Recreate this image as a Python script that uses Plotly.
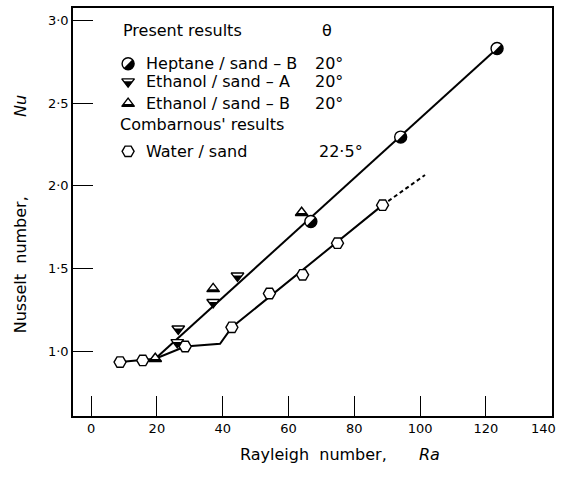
import math
import plotly.graph_objects as go

# ---------------- data ----------------
heptane_ra = [66.8, 94.1, 123.4]
heptane_nu = [1.785, 2.295, 2.83]

ethanolA_ra = [26.2, 26.5, 37.1, 44.5]
ethanolA_nu = [1.055, 1.137, 1.297, 1.457]

ethanolB_ra = [19.5, 37.1, 64.0]
ethanolB_nu = [0.956, 1.378, 1.838]

water_ra = [8.8, 15.7, 28.6, 42.8, 54.2, 64.3, 74.9, 88.6]
water_nu = [0.936, 0.946, 1.03, 1.146, 1.35, 1.463, 1.654, 1.884]

upper_fit_ra = [19.5, 123.4]
upper_fit_nu = [0.956, 2.83]
lower_fit_ra = [8.8, 15.7, 19.5, 28.6, 39.2, 42.8, 88.6]
lower_fit_nu = [0.936, 0.946, 0.956, 1.03, 1.046, 1.146, 1.884]
lower_ext_ra = [88.6, 101.5]
lower_ext_nu = [1.884, 2.066]

x_ticks = [0, 20, 40, 60, 80, 100, 120, 140]
x_tick_labels = ["0", "20", "40", "60", "80", "100", "120", "140"]
y_ticks = [1.0, 1.5, 2.0, 2.5, 3.0]
y_tick_labels = ["1·0", "1·5", "2·0", "2·5", "3·0"]

legend_names = ["Heptane / sand – B", "Ethanol / sand – A", "Ethanol / sand – B", "Water / sand"]
legend_theta = ["20°", "20°", "20°", "22·5°"]

# ---------------- styling / layout constants ----------------
FONT = "DejaVu Sans"
BLACK = "black"
LW = 1.4
S_CIRC = 12
S_TRI = 11
S_HEX = 12
TIP = 1 / math.sqrt(2)   # height fraction of the tip that holds half the triangle's area

LEG_X = 11.25
LEG_Y = [2.738, 2.630, 2.497, 2.209]
LEG_TX = 16.1
LEG_THX = [67.6, 67.6, 67.6, 68.8]

NB = "\u00a0"

fig = go.Figure()
shapes = []


def add(x, y, **marker):
    fig.add_trace(go.Scatter(x=x, y=y, mode="markers", showlegend=False,
                             hoverinfo="skip", marker=marker))


def f(v):
    return f"{v:.3f}"


# pixel-space paths (y up) for the black halves
def circle_half_path(r):
    a = r / math.sqrt(2)
    k = 0.5523 * r * (1 / math.sqrt(2))
    return (f"M{f(a)},{f(a)} C{f(a + k)},{f(a - k)} {f(a + k)},{f(-a + k)} {f(a)},{f(-a)} "
            f"C{f(a - k)},{f(-a - k)} {f(-a + k)},{f(-a - k)} {f(-a)},{f(-a)} Z")


def tri_down_half_path(size):
    r = size / 2
    rt = r * 2 / math.sqrt(3)
    h = 1.5 * r
    ym = -r + TIP * h
    hw = rt * TIP
    return f"M{f(-hw)},{f(ym)} L{f(hw)},{f(ym)} L0,{f(-r)} Z"


def tri_up_half_path(size):
    r = size / 2
    rt = r * 2 / math.sqrt(3)
    h = 1.5 * r
    yb = -r / 2
    ym = r - TIP * h
    hw = rt * TIP
    return f"M{f(-rt)},{f(yb)} L{f(rt)},{f(yb)} L{f(hw)},{f(ym)} L{f(-hw)},{f(ym)} Z"


def add_fill(xs, ys, path):
    for xv, yv in zip(xs, ys):
        shapes.append(dict(type="path", xref="x", yref="y", xsizemode="pixel", ysizemode="pixel",
                           xanchor=xv, yanchor=yv, path=path, fillcolor=BLACK,
                           line=dict(width=0), layer="above"))


def half_circle(x, y):
    add(x, y, symbol="circle", size=S_CIRC, color="white", line=dict(width=LW, color=BLACK))
    add_fill(x, y, circle_half_path(S_CIRC / 2))


def half_tri_down(x, y):
    add(x, y, symbol="triangle-down", size=S_TRI, color="white", line=dict(width=LW, color=BLACK))
    add_fill(x, y, tri_down_half_path(S_TRI))


def half_tri_up(x, y):
    add(x, y, symbol="triangle-up", size=S_TRI, color="white", line=dict(width=LW, color=BLACK))
    add_fill(x, y, tri_up_half_path(S_TRI))


def hexagon(x, y):
    add(x, y, symbol="hexagon2", size=S_HEX, color="white", line=dict(width=LW, color=BLACK))


# lines
fig.add_trace(go.Scatter(x=upper_fit_ra, y=upper_fit_nu, mode="lines", showlegend=False,
                         hoverinfo="skip", line=dict(color=BLACK, width=2)))
fig.add_trace(go.Scatter(x=lower_fit_ra, y=lower_fit_nu, mode="lines", showlegend=False,
                         hoverinfo="skip", line=dict(color=BLACK, width=2)))
fig.add_trace(go.Scatter(x=lower_ext_ra, y=lower_ext_nu, mode="lines", showlegend=False,
                         hoverinfo="skip", line=dict(color=BLACK, width=2, dash="4px,3px")))

# data markers
half_circle(heptane_ra, heptane_nu)
half_tri_down(ethanolA_ra, ethanolA_nu)
half_tri_up(ethanolB_ra, ethanolB_nu)
hexagon(water_ra, water_nu)

# legend symbols
half_circle([LEG_X], [LEG_Y[0]])
half_tri_down([LEG_X], [LEG_Y[1]])
half_tri_up([LEG_X], [LEG_Y[2]])
hexagon([LEG_X], [LEG_Y[3]])

ann = []
tf = dict(family=FONT, size=16, color=BLACK)
ann.append(dict(x=9.1, y=2.942, xref="x", yref="y", text="Present" + NB + "results", showarrow=False,
                xanchor="left", yanchor="middle", font=tf))
ann.append(dict(x=71.7, y=2.942, xref="x", yref="y", text="θ", showarrow=False,
                xanchor="center", yanchor="middle", font=tf))
ann.append(dict(x=8.2, y=2.371, xref="x", yref="y", text="Combarnous'" + NB + "results", showarrow=False,
                xanchor="left", yanchor="middle", font=tf))
for name, th, yy, thx in zip(legend_names, legend_theta, LEG_Y, LEG_THX):
    ann.append(dict(x=LEG_TX, y=yy, xref="x", yref="y", text=name, showarrow=False,
                    xanchor="left", yanchor="middle", font=tf))
    ann.append(dict(x=thx, y=yy, xref="x", yref="y", text=th, showarrow=False,
                    xanchor="left", yanchor="middle", font=tf))

# axis titles
af = dict(family=FONT, size=16, color=BLACK)
ann.append(dict(x=-0.1106, y=0.3695, xref="paper", yref="paper", text="Nusselt" + NB * 2 + "number,",
                textangle=-90, showarrow=False, xanchor="center", yanchor="middle", font=af))
ann.append(dict(x=-0.1106, y=0.7598, xref="paper", yref="paper", text="<i>Nu</i>",
                textangle=-90, showarrow=False, xanchor="center", yanchor="middle", font=af))
ann.append(dict(x=0.502, y=-0.0951, xref="paper", yref="paper", text="Rayleigh" + NB * 2 + "number,",
                showarrow=False, xanchor="center", yanchor="middle", font=af))
ann.append(dict(x=0.745, y=-0.0951, xref="paper", yref="paper", text="<i>Ra</i>",
                showarrow=False, xanchor="center", yanchor="middle", font=af))
# last x tick label (sits under the right frame edge)
ann.append(dict(x=x_ticks[-1], y=0, xref="x", yref="paper", text=x_tick_labels[-1],
                showarrow=False, xanchor="center", yanchor="top", xshift=-8, yshift=-3,
                font=dict(family=FONT, size=13, color=BLACK)))

fig.update_layout(
    width=562, height=477,
    margin=dict(l=73, r=10, t=6, b=61),
    paper_bgcolor="white", plot_bgcolor="white",
    annotations=ann, shapes=shapes,
    font=dict(family=FONT, size=13, color=BLACK),
    xaxis=dict(range=[-5.5, 140.1], tickvals=x_ticks[:-1], ticktext=x_tick_labels[:-1],
               ticks="inside", ticklen=20, tickwidth=1.3, tickcolor=BLACK,
               showline=True, linecolor=BLACK, linewidth=1.5, mirror=True,
               showgrid=False, zeroline=False, tickfont=dict(family=FONT, size=13)),
    yaxis=dict(range=[0.61, 3.075], tickvals=y_ticks, ticktext=y_tick_labels,
               ticks="inside", ticklen=20, tickwidth=1.3, tickcolor=BLACK,
               showline=True, linecolor=BLACK, linewidth=1.5, mirror=True,
               showgrid=False, zeroline=False, tickfont=dict(family=FONT, size=13)),
)

fig.write_html("out.html")
